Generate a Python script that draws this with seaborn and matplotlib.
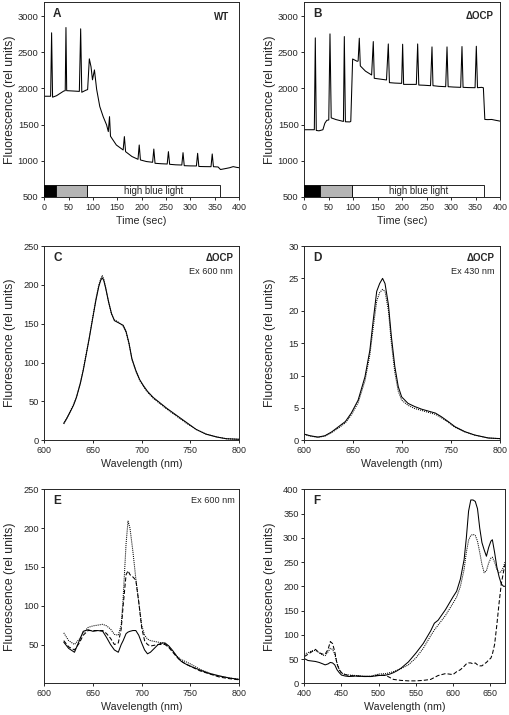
import matplotlib
matplotlib.use('Agg')
import matplotlib.pyplot as plt
import seaborn as sns

sns.set_style('ticks')
plt.rcParams['font.family'] = ['Liberation Sans', 'DejaVu Sans']
plt.rcParams['axes.linewidth'] = 0.7
plt.rcParams['xtick.major.width'] = 0.7
plt.rcParams['ytick.major.width'] = 0.7
plt.rcParams['xtick.major.size'] = 2.5
plt.rcParams['ytick.major.size'] = 2.5
plt.rcParams['xtick.labelsize'] = 6.4
plt.rcParams['ytick.labelsize'] = 6.7
plt.rcParams['xtick.major.pad'] = 1.5
plt.rcParams['ytick.major.pad'] = 1.5

# ---- A: WT fluorescence trace
t_wt = [0, 13, 15, 17, 25, 40, 43, 44.5, 46, 60, 72, 74.7, 77, 85, 89, 92.5, 96, 99, 103,
        107.5, 114, 121, 128, 131.5, 134, 136, 148, 162, 164.5, 167, 180, 192.5, 195, 197.5,
        210, 222.5, 225, 227.5, 240, 252.5, 255, 257.5, 270, 282.5, 285, 287.5, 300, 312.5,
        315, 317.5, 330, 342.5, 345, 347.5, 357, 362, 370, 381, 388, 395, 400]
f_wt = [1893, 1893, 2770, 1880, 1900, 1965, 1970, 2843, 1970, 1965, 1960, 2825, 1948, 1975,
        1985, 2410, 2300, 2120, 2257, 1990, 1750, 1610, 1496, 1404, 1611, 1340, 1219, 1150,
        1335, 1127, 1060, 1021, 1219, 1012, 990, 980, 1163, 966, 960, 956, 1127, 952, 945,
        942, 1113, 933, 930, 929, 1104, 922, 920, 919, 1095, 919, 915, 880, 890, 905, 920,
        910, 905]

# ---- B: delta OCP fluorescence trace
t_ocp = [0, 18, 20.5, 22.5, 24.5, 30, 38, 42, 46, 50, 52.5, 55, 65, 78, 80, 81.8, 84, 93, 95,
         98.8, 108, 110, 112.4, 114.5, 125, 137.6, 141, 143, 155, 168, 171.7, 174, 185, 199,
         201, 203, 215, 229, 231.7, 234, 245, 258, 261, 263, 275, 289, 291.7, 294, 305, 319.6,
         322.3, 324.5, 335, 349, 351.6, 354, 362.5, 366, 369, 375, 383, 390, 400]
f_ocp = [1430, 1430, 1430, 2700, 1420, 1415, 1430, 1520, 1560, 1565, 2755, 1594, 1570, 1548,
         1545, 2718, 1540, 1538, 1545, 2408, 2376, 2380, 2695, 2312, 2240, 2187, 2649, 2141,
         2130, 2118, 2616, 2081, 2075, 2071, 2612, 2057, 2057, 2057, 2616, 2048, 2045, 2039,
         2575, 2039, 2030, 2025, 2575, 2025, 2020, 2016, 2580, 2016, 2013, 2011, 2584, 2011,
         2016, 2010, 1572, 1570, 1572, 1562, 1549]

# light phases (dark, low light, high blue light)
phase_wt = [0, 25, 88, 361]
phase_ocp = [0, 32, 98, 368]
phase_colors = ['black', '#b4b4b4', 'white']

# ---- C: delta OCP, Ex 600 nm
wl_c = [620, 623, 626, 630, 633, 637, 640, 643, 646, 650, 653, 656, 658, 659.5, 661, 663, 666,
        669, 672, 675, 678, 681, 684, 687, 690, 694, 698, 702, 706, 712, 719, 726, 736, 746,
        756, 766, 777, 787, 800]
c_solid = [22, 28, 35, 45, 55, 73, 90, 110, 130, 159, 180, 198, 206, 209, 206, 196, 178, 163,
           154, 152, 150, 148, 140, 125, 105, 90, 78, 70, 63, 55, 48, 41, 32, 23, 14, 8, 4.3,
           2, 1.3]
c_dot = [21, 28, 36, 46, 56, 74, 91, 111, 131, 160, 182, 200, 208, 212, 208, 197, 179, 163,
         155, 153, 150, 147, 139, 124, 104, 89, 77, 69, 62, 54, 47, 40, 31, 22, 14, 8, 4.3,
         2, 1.3]

# ---- D: delta OCP, Ex 430 nm
wl_d = [600, 606, 614, 621, 628, 635, 642, 648, 655, 662, 667, 670.5, 674, 677, 680, 682.5,
        686, 689, 692.5, 696, 699.5, 706, 713, 720, 727, 734, 740, 747, 754, 764, 774, 788, 800]
d_solid = [0.95, 0.7, 0.5, 0.7, 1.3, 2.1, 2.9, 4.2, 6.2, 9.8, 13.9, 18.6, 23, 24.2, 25, 24.2,
           20.9, 16, 11.4, 8.3, 6.7, 5.7, 5.2, 4.8, 4.5, 4.2, 3.65, 2.9, 2.1, 1.34, 0.82,
           0.36, 0.26]
d_dot = [0.9, 0.65, 0.45, 0.65, 1.2, 1.9, 2.7, 3.9, 5.8, 9.2, 13.2, 17.5, 21.5, 22.8, 23.3,
         23.0, 20.0, 15.0, 10.5, 7.6, 6.2, 5.4, 4.9, 4.6, 4.3, 4.0, 3.5, 2.8, 2.0, 1.3, 0.8,
         0.35, 0.25]

# ---- E: Ex 600 nm, three samples
wl_e = [620, 625, 631, 636, 640, 645, 650, 655, 660, 664, 668, 672, 676, 679, 681, 684, 686,
        688, 691, 694, 697, 700, 703, 706, 709, 713, 717, 721, 724, 728, 732, 736, 740, 745,
        750, 760, 770, 780, 790, 800]
e_solid = [53, 45, 40, 55, 67, 69, 67, 68, 67, 59, 50, 43, 40, 50, 55, 64, 66, 67, 68, 68, 62,
           52, 43, 38, 40, 45, 50, 52, 52, 48, 42, 35, 29, 25, 22, 17, 12.4, 9.4, 6.8, 5.1]
e_dot = [65, 55, 50, 57, 65, 72, 74, 75, 76, 74, 70, 63, 62, 75, 110, 180, 209, 200, 170, 135,
         105, 75, 62, 57, 55, 54, 53, 52, 51, 47, 41, 35, 31, 28, 25, 18, 13, 9.5, 7, 5]
e_dash = [55, 47, 43, 52, 62, 68, 68, 68, 68, 64, 58, 50, 52, 70, 100, 140, 145, 140, 137,
          133, 105, 72, 55, 50, 48, 49, 50, 50, 50, 46, 40, 34, 29, 25, 22, 16, 12, 8, 6, 4.5]

# ---- F: excitation spectra
wl_f = [400, 405, 410, 415, 420, 425, 428, 432, 435, 438, 441, 444, 447, 450, 455, 460, 470,
        480, 490, 500, 510, 515, 520, 525, 530, 540, 550, 560, 570, 575, 580, 590, 600, 605,
        610, 615, 618, 621, 624, 627, 630, 633, 636, 639, 642, 645, 648, 651, 653, 656, 659,
        662, 665, 668, 670]
f_solid = [51, 47, 46, 45, 43, 40, 38, 40, 43, 42, 38, 28, 22, 17, 15, 14, 15, 14, 14, 16, 17,
           19, 22, 26, 31, 44, 62, 82, 108, 124, 130, 152, 178, 190, 215, 255, 300, 355, 378,
           378, 375, 360, 320, 290, 275, 262, 280, 293, 296, 270, 240, 220, 205, 200, 200]
f_dot = [60, 63, 67, 68, 63, 58, 57, 65, 72, 70, 60, 42, 28, 21, 18, 17, 16, 15, 15, 19, 20,
         22, 24, 27, 30, 38, 52, 72, 98, 110, 120, 140, 165, 178, 200, 235, 270, 295, 305,
         307, 305, 293, 270, 245, 228, 232, 248, 258, 260, 250, 235, 228, 230, 240, 250]
f_dash = [55, 60, 65, 70, 63, 60, 60, 70, 86, 82, 65, 40, 28, 22, 18, 16, 15, 14, 14, 17, 16,
          12, 8, 7, 6, 5, 5, 6, 8, 12, 16, 20, 18, 24, 28, 35, 40, 42, 42, 40, 42, 38, 36, 36,
          40, 43, 48, 52, 60, 80, 120, 165, 205, 230, 245]

W, H = 510, 715
fig = plt.figure(figsize=(W / 100, H / 100), dpi=100)


def make_ax(left, right, top, bottom):
    return fig.add_axes([left / W, 1 - bottom / H, (right - left) / W, (bottom - top) / H])


ax_a = make_ax(44.3, 239, 1.7, 197)
ax_b = make_ax(304.3, 500, 1.7, 197)
ax_c = make_ax(44.3, 239, 246, 440.3)
ax_d = make_ax(304.3, 500, 246, 440.3)
ax_e = make_ax(44.3, 239, 489.3, 683.3)
ax_f = make_ax(304.3, 505, 489.3, 683.3)
axes = [ax_a, ax_b, ax_c, ax_d, ax_e, ax_f]

lw = 0.75
dotted = (0, (1, 1))
dashed = (0, (4, 2))


def line(ax, x, y, ls='-'):
    sns.lineplot(x=x, y=y, ax=ax, color='black', linewidth=lw, linestyle=ls,
                 estimator=None, sort=False)


def light_bar(ax, phases):
    for i in range(3):
        ax.barh(500, phases[i + 1] - phases[i], left=phases[i], height=170, align='edge',
                color=phase_colors[i], edgecolor='black', linewidth=0.6, zorder=3)
    ax.text((phases[2] + phases[3]) / 2, 585, 'high blue light', ha='center', va='center',
            fontsize=6.9, zorder=4)


# A
line(ax_a, t_wt, f_wt)
light_bar(ax_a, phase_wt)
ax_a.set_xlim(0, 400)
ax_a.set_ylim(500, 3200)
ax_a.set_yticks([500, 1000, 1500, 2000, 2500, 3000])
ax_a.set_xticks(range(0, 401, 50))
ax_a.set_xlabel('Time (sec)')

# B
line(ax_b, t_ocp, f_ocp)
light_bar(ax_b, phase_ocp)
ax_b.set_xlim(0, 400)
ax_b.set_ylim(500, 3200)
ax_b.set_yticks([500, 1000, 1500, 2000, 2500, 3000])
ax_b.set_xticks(range(0, 401, 50))
ax_b.set_xlabel('Time (sec)')

# C
line(ax_c, wl_c, c_dot, dotted)
line(ax_c, wl_c, c_solid)
ax_c.set_xlim(600, 800)
ax_c.set_ylim(0, 250)
ax_c.set_xticks([600, 650, 700, 750, 800])

# D
line(ax_d, wl_d, d_dot, dotted)
line(ax_d, wl_d, d_solid)
ax_d.set_xlim(600, 800)
ax_d.set_ylim(0, 30)
ax_d.set_xticks([600, 650, 700, 750, 800])

# E
line(ax_e, wl_e, e_dot, dotted)
line(ax_e, wl_e, e_dash, dashed)
line(ax_e, wl_e, e_solid)
ax_e.set_xlim(600, 800)
ax_e.set_ylim(0, 250)
ax_e.set_yticks([50, 100, 150, 200, 250])
ax_e.set_xticks([600, 650, 700, 750, 800])

# F
line(ax_f, wl_f, f_dot, dotted)
line(ax_f, wl_f, f_dash, dashed)
line(ax_f, wl_f, f_solid)
ax_f.set_xlim(400, 670)
ax_f.set_ylim(0, 400)
ax_f.set_xticks([400, 450, 500, 550, 600, 650])

for ax in [ax_c, ax_d, ax_e, ax_f]:
    ax.set_xlabel('Wavelength (nm)')

# y labels sit at the same place in each column
for ax in axes:
    ax.set_ylabel('Fluorescence (rel units)', fontsize=8.8)
    ax.xaxis.label.set_fontsize(7.7)
    ax.xaxis.labelpad = 3
    pos = ax.get_position()
    label_px = 16.5 if pos.x0 < 0.5 else 276.5
    ax.yaxis.set_label_coords((label_px - pos.x0 * W) / (pos.width * W), 0.5)

# panel letters and annotations
for ax, letter in zip(axes, 'ABCDEF'):
    ax.text(0.045, 0.97, letter, transform=ax.transAxes, ha='left', va='top',
            fontsize=8.5, fontweight='bold')

ax_a.text(0.95, 0.945, 'WT', transform=ax_a.transAxes, ha='right', va='top',
          fontsize=7, fontweight='bold')
ax_b.text(0.965, 0.95, 'ΔOCP', transform=ax_b.transAxes, ha='right', va='top',
          fontsize=7, fontweight='bold')
ax_c.text(0.97, 0.962, 'ΔOCP', transform=ax_c.transAxes, ha='right', va='top',
          fontsize=7, fontweight='bold')
ax_c.text(0.97, 0.89, 'Ex 600 nm', transform=ax_c.transAxes, ha='right', va='top', fontsize=6.6)
ax_d.text(0.97, 0.962, 'ΔOCP', transform=ax_d.transAxes, ha='right', va='top',
          fontsize=7, fontweight='bold')
ax_d.text(0.97, 0.89, 'Ex 430 nm', transform=ax_d.transAxes, ha='right', va='top', fontsize=6.6)
ax_e.text(0.98, 0.965, 'Ex 600 nm', transform=ax_e.transAxes, ha='right', va='top', fontsize=6.6)

fig.savefig('out.png', dpi=100)
